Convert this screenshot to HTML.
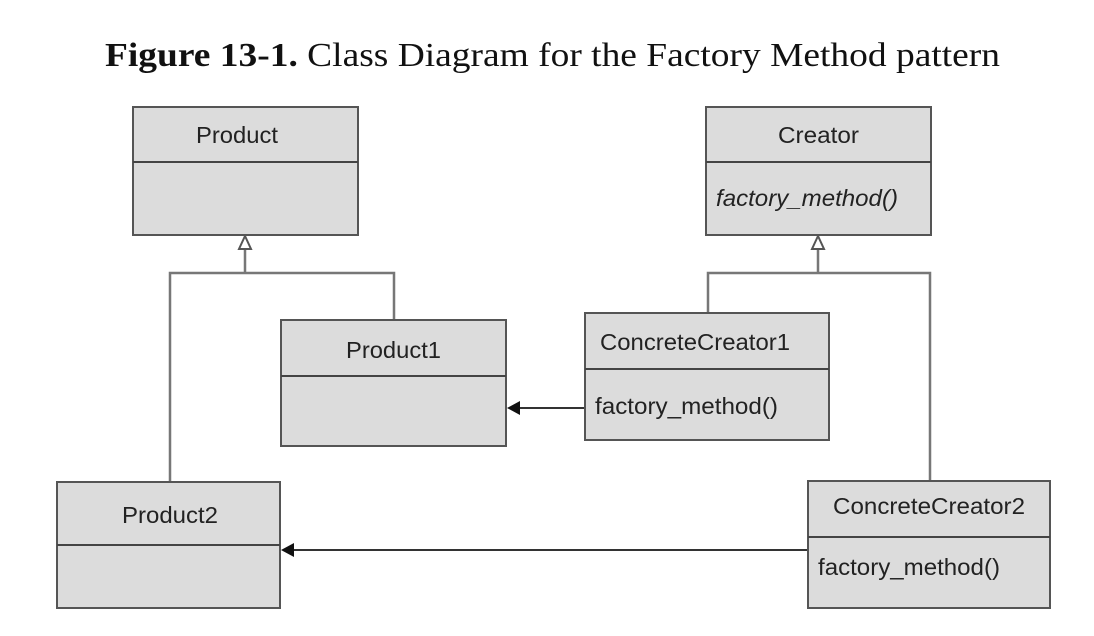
<!DOCTYPE html>
<html><head><meta charset="utf-8"><style>
html,body{margin:0;padding:0;background:#fff;width:1094px;height:636px;overflow:hidden}
svg{display:block}
.b{fill:#dcdcdc;stroke:#555;stroke-width:2}
.l{stroke:#777;stroke-width:2.5;fill:none}
.t{font-family:"Liberation Sans",sans-serif;font-size:23px;fill:#222}
</style></head><body>
<svg width="1094" height="636" viewBox="0 0 1094 636">
<text x="105" y="66" textLength="895" lengthAdjust="spacingAndGlyphs" font-family="'Liberation Serif',serif" font-size="34" fill="#111"><tspan font-weight="bold">Figure 13-1.</tspan> Class Diagram for the Factory Method pattern</text>

<path class="l" d="M245 249 V273 M170 482 V273 H394 V320"/>
<path class="l" d="M818 249 V273 M708 313 V273 H930 V481"/>
<polygon points="245,236 239,249 251,249" fill="#fff" stroke="#555" stroke-width="2"/>
<polygon points="818,236 812,249 824,249" fill="#fff" stroke="#555" stroke-width="2"/>
<line x1="585" y1="408" x2="518" y2="408" stroke="#333" stroke-width="2"/>
<polygon points="507,408 520,401 520,415" fill="#111"/>
<line x1="808" y1="550" x2="292" y2="550" stroke="#333" stroke-width="2"/>
<polygon points="281,550 294,543 294,557" fill="#111"/>

<rect class="b" x="133" y="107" width="225" height="128"/><line x1="133" y1="162" x2="358" y2="162" stroke="#444" stroke-width="2"/>
<text class="t" x="196" y="143" textLength="82" lengthAdjust="spacingAndGlyphs">Product</text>

<rect class="b" x="706" y="107" width="225" height="128"/><line x1="706" y1="162" x2="931" y2="162" stroke="#444" stroke-width="2"/>
<text class="t" x="778" y="143" textLength="81" lengthAdjust="spacingAndGlyphs">Creator</text>
<text class="t" x="716" y="206" font-style="italic" textLength="182" lengthAdjust="spacingAndGlyphs">factory_method()</text>

<rect class="b" x="281" y="320" width="225" height="126"/><line x1="281" y1="376" x2="506" y2="376" stroke="#444" stroke-width="2"/>
<text class="t" x="346" y="358" textLength="95" lengthAdjust="spacingAndGlyphs">Product1</text>

<rect class="b" x="585" y="313" width="244" height="127"/><line x1="585" y1="369" x2="829" y2="369" stroke="#444" stroke-width="2"/>
<text class="t" x="600" y="350" textLength="190" lengthAdjust="spacingAndGlyphs">ConcreteCreator1</text>
<text class="t" x="595" y="414" textLength="183" lengthAdjust="spacingAndGlyphs">factory_method()</text>

<rect class="b" x="57" y="482" width="223" height="126"/><line x1="57" y1="545" x2="280" y2="545" stroke="#444" stroke-width="2"/>
<text class="t" x="122" y="523" textLength="96" lengthAdjust="spacingAndGlyphs">Product2</text>

<rect class="b" x="808" y="481" width="242" height="127"/><line x1="808" y1="537" x2="1050" y2="537" stroke="#444" stroke-width="2"/>
<text class="t" x="833" y="514" textLength="192" lengthAdjust="spacingAndGlyphs">ConcreteCreator2</text>
<text class="t" x="818" y="575" textLength="182" lengthAdjust="spacingAndGlyphs">factory_method()</text>
</svg>
</body></html>
